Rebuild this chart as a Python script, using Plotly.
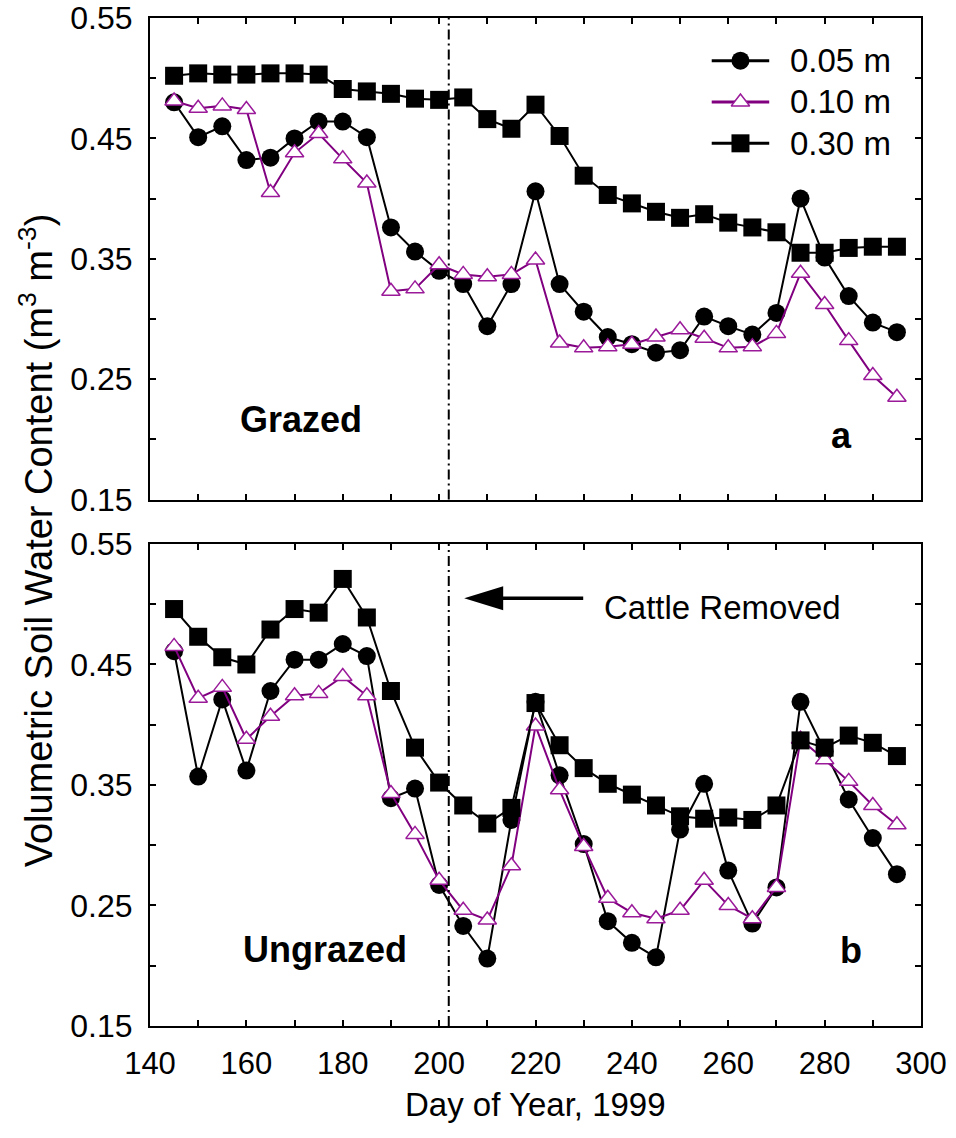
import plotly.graph_objects as go

# ---------------- data ----------------
days = [145, 150, 155, 160, 165, 170, 175, 180, 185, 190, 195, 200, 205, 210, 215,
        220, 225, 230, 235, 240, 245, 250, 255, 260, 265, 270, 275, 280, 285, 290, 295]

# Panel a: Grazed
grazed_005 = [0.480, 0.451, 0.460, 0.432, 0.434, 0.450, 0.464, 0.464, 0.451, 0.376, 0.356, 0.340, 0.329, 0.294, 0.329,
              0.406, 0.329, 0.306, 0.285, 0.279, 0.272, 0.274, 0.302, 0.294, 0.287, 0.305, 0.400, 0.351, 0.319, 0.297, 0.289]
grazed_010 = [0.481, 0.475, 0.477, 0.474, 0.405, 0.438, 0.454, 0.433, 0.413, 0.323, 0.325, 0.345, 0.337, 0.335, 0.337,
              0.349, 0.280, 0.276, 0.277, 0.279, 0.285, 0.291, 0.284, 0.276, 0.277, 0.288, 0.338, 0.312, 0.282, 0.253, 0.235]
grazed_030 = [0.502, 0.504, 0.503, 0.503, 0.504, 0.504, 0.503, 0.491, 0.489, 0.487, 0.483, 0.482, 0.484, 0.466, 0.458,
              0.478, 0.452, 0.419, 0.403, 0.396, 0.389, 0.384, 0.387, 0.380, 0.376, 0.372, 0.355, 0.355, 0.359, 0.360, 0.360]

# Panel b: Ungrazed
ungrazed_005 = [0.461, 0.357, 0.421, 0.362, 0.428, 0.454, 0.454, 0.467, 0.457, 0.339, 0.347, 0.267, 0.233, 0.206, 0.321,
                0.419, 0.358, 0.301, 0.237, 0.219, 0.207, 0.313, 0.351, 0.279, 0.235, 0.265, 0.419, 0.378, 0.338, 0.306, 0.276]
ungrazed_010 = [0.465, 0.422, 0.431, 0.388, 0.407, 0.424, 0.426, 0.440, 0.424, 0.343, 0.309, 0.271, 0.246, 0.238, 0.283,
                0.399, 0.346, 0.299, 0.256, 0.244, 0.239, 0.246, 0.271, 0.250, 0.239, 0.265, 0.388, 0.371, 0.353, 0.333, 0.317]
ungrazed_030 = [0.496, 0.473, 0.456, 0.450, 0.479, 0.496, 0.493, 0.521, 0.489, 0.428, 0.381, 0.352, 0.333, 0.318, 0.331,
                0.418, 0.383, 0.364, 0.351, 0.342, 0.333, 0.324, 0.322, 0.323, 0.321, 0.333, 0.387, 0.381, 0.391, 0.385, 0.374]

series_names = ["0.05 m", "0.10 m", "0.30 m"]
cattle_removed_day = 202

x_tick_vals = [140, 160, 180, 200, 220, 240, 260, 280, 300]
x_tick_text = ["140", "160", "180", "200", "220", "240", "260", "280", "300"]
x_minor_vals = [150, 170, 190, 210, 230, 250, 270, 290]
y_tick_vals = [0.15, 0.25, 0.35, 0.45, 0.55]
y_tick_text = ["0.15", "0.25", "0.35", "0.45", "0.55"]
y_minor_vals = [0.20, 0.30, 0.40, 0.50]

# ---------------- style ----------------
FONT = "Liberation Sans, Arial, Helvetica, sans-serif"
BLACK = "#000000"
PURPLE = "#800080"
PURPLE_EDGE = "#9a1a9a"

styles = [
    dict(line=dict(color=BLACK, width=2),
         marker=dict(symbol="circle", size=18, color=BLACK, line=dict(width=0))),
    dict(line=dict(color=PURPLE, width=2),
         marker=dict(symbol="triangle-up", size=16, color="white", line=dict(color=PURPLE_EDGE, width=1.5))),
    dict(line=dict(color=BLACK, width=2),
         marker=dict(symbol="square", size=18, color=BLACK, line=dict(width=0))),
]

fig = go.Figure()

panels = [("x", "y", [grazed_005, grazed_010, grazed_030]),
          ("x2", "y2", [ungrazed_005, ungrazed_010, ungrazed_030])]
for xa, ya, series in panels:
    for name, vals, st in zip(series_names, series, styles):
        fig.add_trace(go.Scatter(x=days, y=vals, xaxis=xa, yaxis=ya, mode="lines+markers",
                                 name=name, showlegend=False, cliponaxis=False, **st))

# custom legend drawn on a hidden helper axis pair
legend_rows = [2, 1, 0]
for name, row, st in zip(series_names, legend_rows, styles):
    fig.add_trace(go.Scatter(x=[0, 1], y=[row, row], xaxis="x3", yaxis="y3", mode="lines",
                             line=dict(color=st["line"]["color"], width=3),
                             showlegend=False, hoverinfo="skip", cliponaxis=False))
    fig.add_trace(go.Scatter(x=[0.5], y=[row], xaxis="x3", yaxis="y3", mode="markers",
                             marker=dict(st["marker"]), showlegend=False, hoverinfo="skip", cliponaxis=False))

tick_style = dict(ticks="inside", ticklen=6, tickwidth=1.5, tickcolor=BLACK)
axis_common = dict(
    range=[140, 300], tickmode="array", tickvals=x_tick_vals, ticktext=x_tick_text,
    minor=dict(tickmode="array", tickvals=x_minor_vals, showgrid=False, **tick_style),
    showline=True, linewidth=2, linecolor=BLACK, mirror="ticks",
    showgrid=False, zeroline=False, automargin=False,
    tickfont=dict(family=FONT, size=31, color=BLACK), **tick_style,
)
yaxis_common = dict(
    range=[0.15, 0.55], tickmode="array", tickvals=y_tick_vals, ticktext=y_tick_text,
    minor=dict(tickmode="array", tickvals=y_minor_vals, showgrid=False, **tick_style),
    showline=True, linewidth=2, linecolor=BLACK, mirror="ticks",
    showgrid=False, zeroline=False, ticklabelstandoff=9, automargin=False,
    tickfont=dict(family=FONT, size=32, color=BLACK), **tick_style,
)

fig.update_layout(
    width=956, height=1138,
    margin=dict(l=150, r=35, t=18, b=112, autoexpand=False),
    paper_bgcolor="white", plot_bgcolor="rgba(0,0,0,0)",
    showlegend=False,
    font=dict(family=FONT, color=BLACK),
    xaxis=dict(domain=[0, 1], anchor="y", showticklabels=False, **axis_common),
    xaxis2=dict(domain=[0, 1], anchor="y2", showticklabels=True, ticklabelstandoff=9, **axis_common),
    yaxis=dict(domain=[0.5223, 1.0], anchor="x", **yaxis_common),
    yaxis2=dict(domain=[0.0, 0.4782], anchor="x2", **yaxis_common),
    xaxis3=dict(domain=[0.7211, 0.8106], anchor="y3", range=[-0.1, 1.1], visible=False,
                fixedrange=True, automargin=False),
    yaxis3=dict(domain=[0.8552, 0.9781], anchor="x3", range=[-0.5, 2.5], visible=False,
                fixedrange=True, automargin=False),
)

# legend labels (paper coordinates of the legend rows)
legend_text_x = 0.8279
legend_text_y = [0.9576, 0.9167, 0.8757]
annotations = []
for name, ly in zip(series_names, legend_text_y):
    annotations.append(dict(text=name, xref="paper", yref="paper", x=legend_text_x, y=ly, xanchor="left",
                            yanchor="middle", showarrow=False, font=dict(family=FONT, size=33, color=BLACK)))

bold = dict(family=FONT, size=36, color=BLACK)
annotations += [
    dict(text="<b>Grazed</b>", xref="x", yref="y", x=171.3, y=0.2168, showarrow=False, font=bold),
    dict(text="<b>a</b>", xref="x", yref="y", x=283.4, y=0.203, showarrow=False, font=bold),
    dict(text="<b>Ungrazed</b>", xref="x2", yref="y2", x=176.3, y=0.2138, showarrow=False, font=bold),
    dict(text="<b>b</b>", xref="x2", yref="y2", x=285.4, y=0.2125, showarrow=False, font=bold),
    dict(text="Cattle Removed", xref="x2", yref="y2", x=233.7, y=0.497, xanchor="left", yanchor="middle",
         showarrow=False, font=dict(family=FONT, size=33, color=BLACK)),
    dict(text="Volumetric Soil Water Content (m<sup>3</sup> m<sup>-3</sup>)", xref="paper", yref="paper",
         x=-0.1476, y=0.482, xanchor="center", yanchor="middle", textangle=-90, showarrow=False,
         font=dict(family=FONT, size=38, color=BLACK)),
    dict(text="Day of Year, 1999", xref="paper", yref="paper", x=0.5, y=-0.0780,
         xanchor="center", yanchor="middle", showarrow=False, font=dict(family=FONT, size=33, color=BLACK)),
]
fig.update_layout(annotations=annotations)

dash = "10px,4px,2px,4px"
shapes = [
    dict(type="line", xref="x", yref="y domain", x0=cattle_removed_day, x1=cattle_removed_day, y0=0, y1=1,
         line=dict(color=BLACK, width=2, dash=dash)),
    dict(type="line", xref="x2", yref="y2 domain", x0=cattle_removed_day, x1=cattle_removed_day, y0=0, y1=1,
         line=dict(color=BLACK, width=2, dash=dash)),
    # arrow pointing to the cattle-removal date
    dict(type="line", xref="x2", yref="y2", x0=229.9, x1=212.5, y0=0.505, y1=0.505,
         line=dict(color=BLACK, width=3.5)),
    dict(type="path", xref="x2", yref="y2", xsizemode="pixel", ysizemode="pixel",
         xanchor=205.2, yanchor=0.505, path="M0,0 L39,12 L39,-12 Z",
         fillcolor=BLACK, line=dict(width=0)),
]
fig.update_layout(shapes=shapes)

fig.write_html("out.html")
